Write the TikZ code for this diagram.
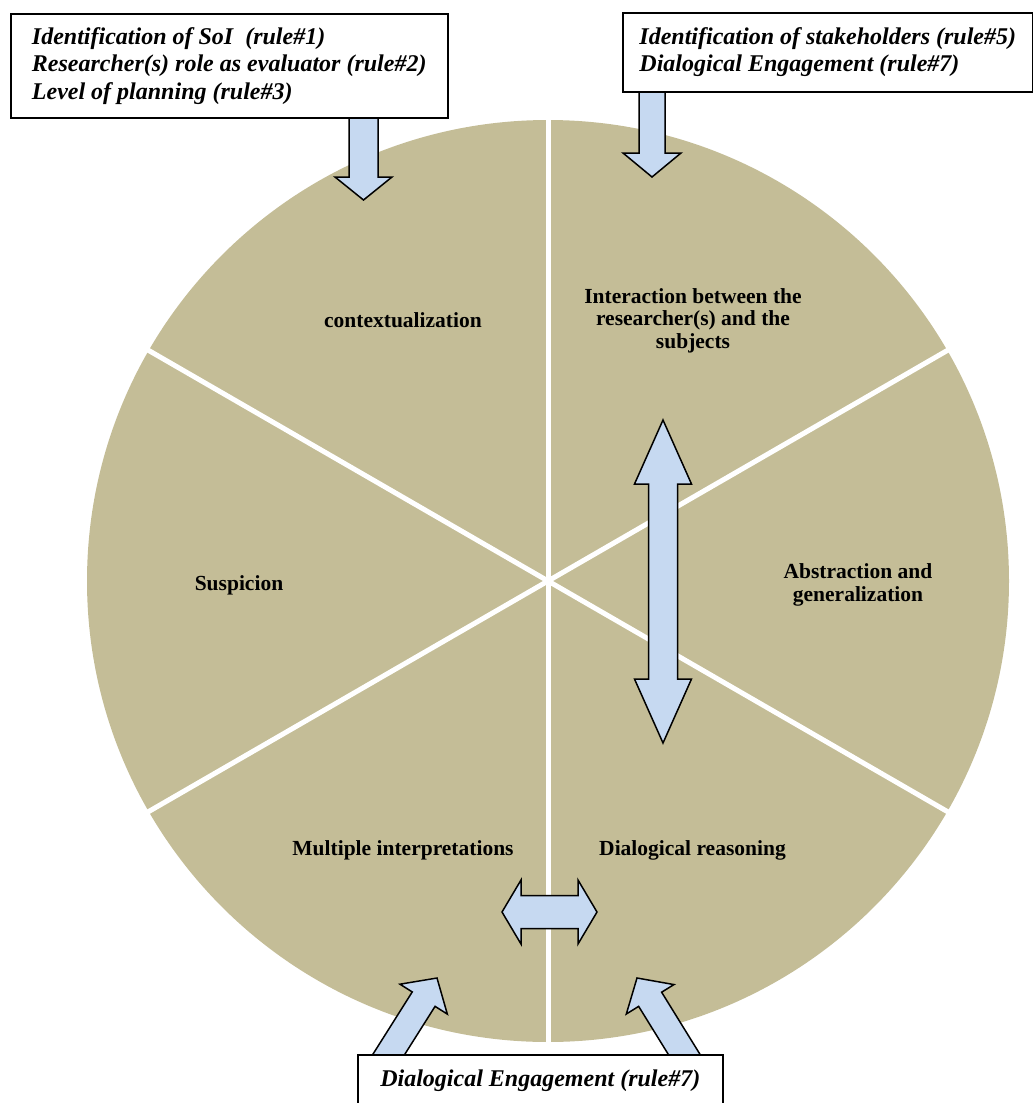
\documentclass[tikz,border=0pt]{standalone}
\usepackage{fontspec}
\setmainfont{Liberation Serif}
\usetikzlibrary{calc}
\definecolor{sectortan}{HTML}{C4BD97}
\definecolor{arrowblue}{HTML}{C6D9F1}
\tikzset{
	divider/.style={white, line width=5pt},
	phase/.style={font=\fontsize{21.5}{22.5}\selectfont\bfseries, align=center, inner sep=0pt},
	rulebox/.style={draw, line width=1.5pt, fill=white, font=\fontsize{24}{27.5}\selectfont\bfseries\itshape, align=left, anchor=north west},
	blockarrow/.style={draw, line width=1.5pt, fill=arrowblue, line join=miter},
}
% tail, tip, shaft half width, head half width, head length
\newcommand{\blockarrow}[5]{%
	\coordinate (hb) at ($(#2)!#5!(#1)$);
	\draw[blockarrow] ($(#1)!#3!90:(#2)$) -- ($(hb)!#3!90:(#2)$) -- ($(hb)!#4!90:(#2)$) -- (#2)
		-- ($(hb)!#4!-90:(#2)$) -- ($(hb)!#3!-90:(#2)$) -- ($(#1)!#3!-90:(#2)$) -- cycle;}
% tip, tip, shaft half width, head half width, head length
\newcommand{\doublearrow}[5]{%
	\coordinate (ha) at ($(#1)!#5!(#2)$);
	\coordinate (hb) at ($(#2)!#5!(#1)$);
	\draw[blockarrow] (#1) -- ($(ha)!#4!90:(#2)$) -- ($(ha)!#3!90:(#2)$) -- ($(hb)!#3!-90:(#1)$)
		-- ($(hb)!#4!-90:(#1)$) -- (#2) -- ($(hb)!#4!90:(#1)$) -- ($(hb)!#3!90:(#1)$)
		-- ($(ha)!#3!-90:(#2)$) -- ($(ha)!#4!-90:(#2)$) -- cycle;}
\begin{document}
\begin{tikzpicture}[x=1pt, y=-1pt]
	\useasboundingbox (0,0) rectangle (1033,1103);
	\coordinate (hub) at (548,581);
	\fill[sectortan] (hub) circle[radius=461pt];
	\foreach \a in {30,90,...,330}
		\draw[divider] (hub) -- ++(\a:463pt);

	\node[phase] (ctx) at (403,320) {contextualization};
	\node[phase] (inter) at (693,320.5) {Interaction between the\\researcher(s) and the\\subjects};
	\node[phase] (abstr) at (858,585) {Abstraction and\\generalization};
	\node[phase] (susp) at (239,585) {Suspicion};
	\node[phase] (multi) at (403,850) {Multiple interpretations};
	\node[phase] (dial) at (692.5,850) {Dialogical reasoning};

	\coordinate (soiout) at (363.5,105); \coordinate (ctxin) at (363.5,200);
	\coordinate (stakeout) at (652,80); \coordinate (interin) at (652,177);
	\coordinate (interlink) at (663,420); \coordinate (diallink) at (663,743);
	\coordinate (multilink) at (502,912); \coordinate (dialside) at (597,912);
	\coordinate (engl) at (372.6,1080); \coordinate (multiin) at (437,978);
	\coordinate (engr) at (700,1080); \coordinate (dialin) at (637,978);

	\blockarrow{soiout}{ctxin}{14.5pt}{28.5pt}{23pt}
	\blockarrow{stakeout}{interin}{13pt}{29pt}{24pt}
	\doublearrow{interlink}{diallink}{14.5pt}{28.5pt}{64pt}
	\doublearrow{multilink}{dialside}{16.5pt}{32pt}{19pt}
	\blockarrow{engl}{multiin}{13.5pt}{28pt}{25pt}
	\blockarrow{engr}{dialin}{13.5pt}{28pt}{25pt}

	\node[rulebox, minimum width=437pt, minimum height=104pt] (soibox) at (10,13)
		{Identification of SoI\ \ (rule\#1)\\Researcher(s) role as evaluator (rule\#2)\\Level of planning (rule\#3)};
	\node[rulebox, minimum width=410pt, minimum height=79pt] (stakebox) at (622,12)
		{Identification of stakeholders (rule\#5)\\Dialogical Engagement (rule\#7)};
	\node[rulebox, minimum width=365pt, minimum height=52pt] (engbox) at (357,1054)
		{Dialogical Engagement (rule\#7)};
\end{tikzpicture}
\end{document}
